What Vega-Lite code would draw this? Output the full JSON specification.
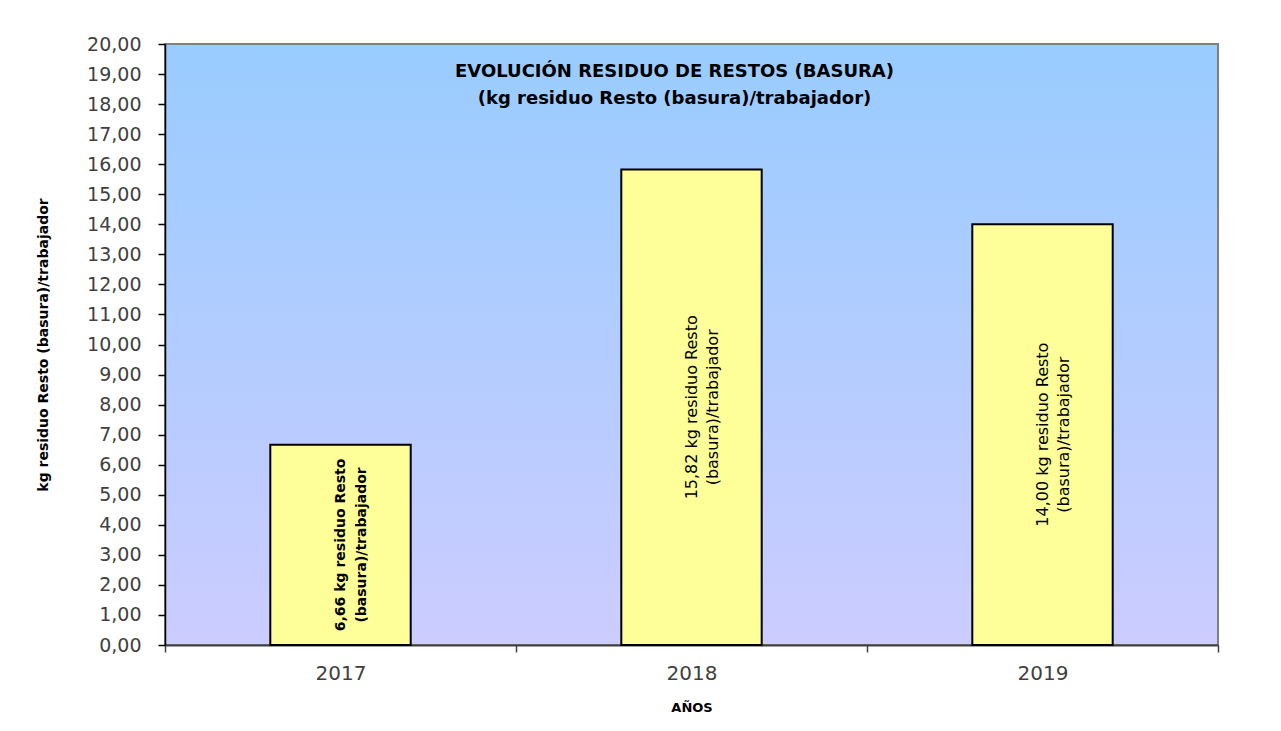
{
  "$schema": "https://vega.github.io/schema/vega-lite/v6.json",
  "autosize": {"type": "none"},
  "width": 1053,
  "height": 601,
  "padding": {"left": 165, "top": 44, "right": 63, "bottom": 86},
  "background": "white",
  "title": {
    "text": ["EVOLUCIÓN RESIDUO DE RESTOS (BASURA)", "(kg residuo Resto (basura)/trabajador)"],
    "orient": "top",
    "anchor": "middle",
    "offset": -73,
    "dx": -17,
    "font": "DejaVu Sans",
    "fontSize": 18,
    "fontWeight": "bold",
    "color": "#000000",
    "lineHeight": 27
  },
  "data": {
    "values": [
      {"year": "2017", "value": 6.66, "label": "6,66 kg residuo Resto\n(basura)/trabajador"},
      {"year": "2018", "value": 15.82, "label": "15,82 kg residuo  Resto\n(basura)/trabajador"},
      {"year": "2019", "value": 14.0, "label": "14,00 kg  residuo Resto\n(basura)/trabajador"}
    ]
  },
  "encoding": {
    "x": {
      "field": "year",
      "type": "nominal",
      "scale": {"paddingInner": 0, "paddingOuter": 0},
      "axis": {
        "title": "AÑOS",
        "titleFont": "DejaVu Sans",
        "titleFontSize": 13,
        "titleFontWeight": "bold",
        "titleColor": "#000000",
        "titlePadding": 18,
        "labelAngle": 0,
        "labelFont": "DejaVu Sans",
        "labelFontSize": 20,
        "labelColor": "#404040",
        "labelPadding": 11,
        "tickBand": "extent",
        "tickSize": 7,
        "tickColor": "#404040",
        "tickWidth": 1.5,
        "domainColor": "#404040",
        "domainWidth": 2,
        "grid": false
      }
    }
  },
  "layer": [
    {
      "mark": {"type": "bar", "width": {"band": 0.4}, "fill": "#FFFF99", "stroke": "#000000", "strokeWidth": 2},
      "encoding": {
        "y": {
          "field": "value",
          "type": "quantitative",
          "title": "kg residuo Resto (basura)/trabajador",
          "scale": {"domain": [0, 20], "nice": false},
          "axis": {"values": [0,1,2,3,4,5,6,7,8,9,10,11,12,13,14,15,16,17,18,19,20], "labelExpr": "replace(format(datum.value, '.2f'), '.', ',')"}
        }
      }
    },
    {
      "transform": [{"filter": "datum.year == '2017'"}, {"calculate": "datum.value / 2", "as": "mid"}],
      "mark": {"type": "text", "angle": 270, "lineBreak": "\n", "align": "center", "baseline": "middle", "font": "DejaVu Sans", "fontSize": 14, "fontWeight": "bold", "lineHeight": 21, "color": "#000000"},
      "encoding": {
        "y": {"field": "mid", "type": "quantitative", "title": "kg residuo Resto (basura)/trabajador",
              "axis": {"values": [0,1,2,3,4,5,6,7,8,9,10,11,12,13,14,15,16,17,18,19,20], "labelExpr": "replace(format(datum.value, '.2f'), '.', ',')"}},
        "text": {"field": "label", "type": "nominal"}
      }
    },
    {
      "transform": [{"filter": "datum.year != '2017'"}, {"calculate": "datum.value / 2", "as": "mid"}],
      "mark": {"type": "text", "angle": 270, "lineBreak": "\n", "align": "center", "baseline": "middle", "font": "DejaVu Sans", "fontSize": 16, "fontWeight": "normal", "lineHeight": 21, "color": "#000000"},
      "encoding": {
        "y": {"field": "mid", "type": "quantitative", "title": "kg residuo Resto (basura)/trabajador",
              "axis": {"values": [0,1,2,3,4,5,6,7,8,9,10,11,12,13,14,15,16,17,18,19,20], "labelExpr": "replace(format(datum.value, '.2f'), '.', ',')"}},
        "text": {"field": "label", "type": "nominal"}
      }
    }
  ],
  "config": {
    "view": {
      "fill": {"gradient": "linear", "x1": 0, "y1": 0, "x2": 0, "y2": 1, "stops": [{"offset": 0, "color": "#99CCFF"}, {"offset": 1, "color": "#CCCCFF"}]},
      "stroke": "#808080",
      "strokeWidth": 2
    },
    "axisY": {
      "titleFont": "DejaVu Sans",
      "titleFontSize": 14,
      "titleFontWeight": "bold",
      "titleColor": "#000000",
      "titlePadding": 36,
      "labelOverlap": false,
      "labelFont": "DejaVu Sans",
      "labelFontSize": 19,
      "labelColor": "#404040",
      "labelPadding": 17,
      "tickSize": 7,
      "tickColor": "#000000",
      "tickWidth": 1.5,
      "domainColor": "#000000",
      "domainWidth": 1.5,
      "grid": false
    }
  }
}
